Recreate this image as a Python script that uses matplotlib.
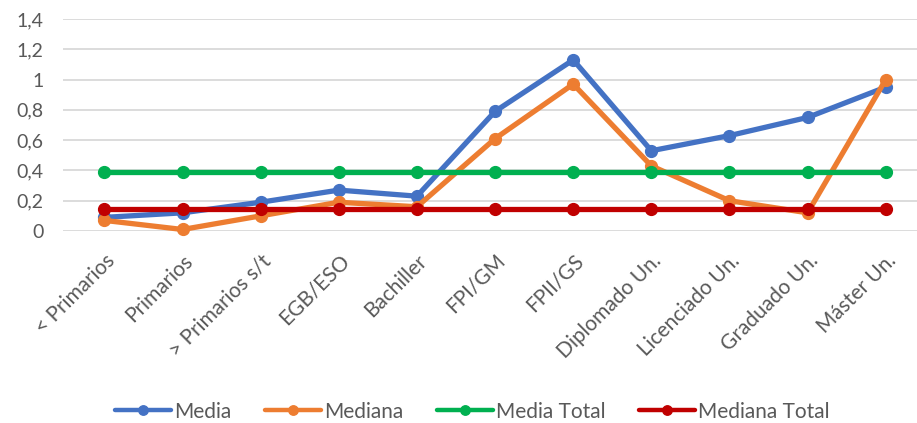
import matplotlib
matplotlib.use("Agg")
from matplotlib import pyplot as plt
import numpy as np

# data
categorias = ['< Primarios', 'Primarios', '> Primarios s/t', 'EGB/ESO', 'Bachiller',
              'FPI/GM', 'FPII/GS', 'Diplomado Un.', 'Licenciado Un.', 'Graduado Un.', 'Máster Un.']
media = [0.09, 0.12, 0.19, 0.27, 0.23, 0.79, 1.13, 0.53, 0.63, 0.75, 0.95]
mediana = [0.07, 0.01, 0.10, 0.19, 0.16, 0.61, 0.97, 0.43, 0.20, 0.12, 1.00]
media_total = [0.39] * len(categorias)
mediana_total = [0.145] * len(categorias)

y_ticks = [0, 0.2, 0.4, 0.6, 0.8, 1.0, 1.2, 1.4]
y_labels = ['0', '0,2', '0,4', '0,6', '0,8', '1', '1,2', '1,4']

plt.rcParams['font.family'] = ['Lato', 'DejaVu Sans']

fig = plt.figure(figsize=(9.17, 4.23), dpi=100)
ax = fig.add_axes([63 / 917, 1 - 231 / 423, 1 - 63 / 917, (231 - 19) / 423])

x = np.arange(len(categorias))
series = [
    (media, 'Media', '#4472C4'),
    (mediana, 'Mediana', '#ED7D31'),
    (media_total, 'Media Total', '#00B050'),
    (mediana_total, 'Mediana Total', '#C00000'),
]
for vals, name, col in series:
    ax.plot(x, vals, color=col, linewidth=3.8, marker='o', markersize=8.5,
            label=name, clip_on=False, zorder=3, solid_capstyle='round')

ax.set_xlim(-0.53, 10.4)
ax.set_ylim(0, 1.4)
ax.set_yticks(y_ticks)
ax.set_yticklabels(y_labels)
ax.set_xticks(x)
ax.set_xticklabels(categorias, rotation=45, ha='right', va='top', rotation_mode='anchor')

ax.grid(axis='y', color='#D9D9D9', linewidth=1.3, zorder=0)
ax.set_axisbelow(True)
for s in ax.spines.values():
    s.set_visible(False)
ax.tick_params(axis='both', length=0, colors='#595959')
ax.tick_params(axis='y', pad=14, labelsize=14)
ax.tick_params(axis='x', pad=14, labelsize=15)

leg = fig.legend(loc='center', bbox_to_anchor=(0.515, 0.027), ncol=4, frameon=False,
                 fontsize=15, handlelength=2.7, columnspacing=1.6, handletextpad=0.15,
                 labelcolor='#595959', markerscale=0.8)
for h in leg.legend_handles:
    h.set_linewidth(3.2)

fig.savefig('out.png', dpi=100)
